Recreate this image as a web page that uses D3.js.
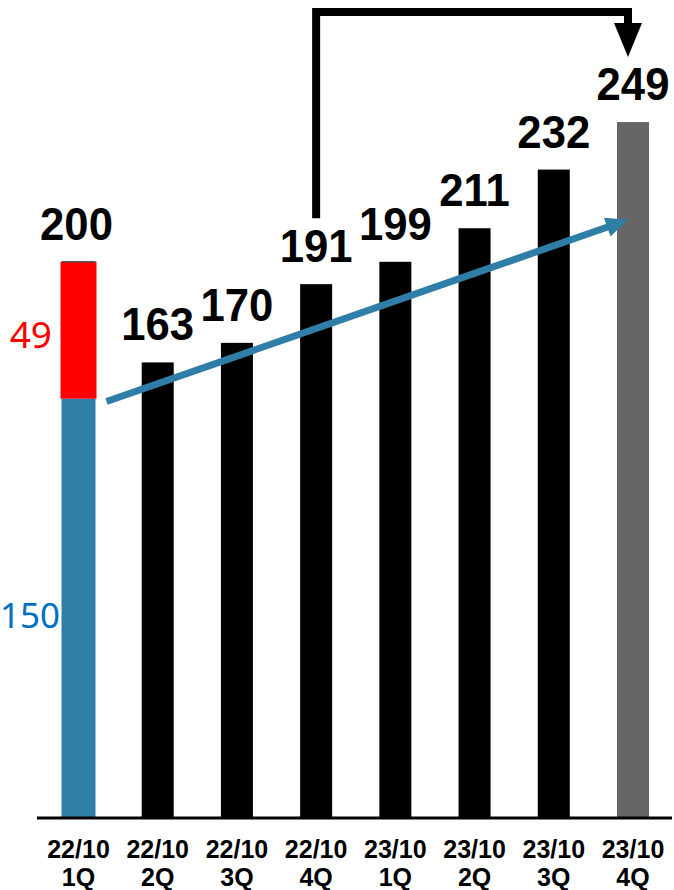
<!DOCTYPE html>
<html>
<head>
<meta charset="utf-8">
<script src="https://cdn.jsdelivr.net/npm/d3@7"></script>
<style>
  html, body { margin: 0; padding: 0; background: #fff; }
  svg { display: block; }
</style>
</head>
<body>
<svg id="chart" width="674" height="890"></svg>
<script>
// Quarterly totals, 22/10 1Q through 23/10 4Q
const periods   = ["22/10", "22/10", "22/10", "22/10", "23/10", "23/10", "23/10", "23/10"];
const quarters  = ["1Q", "2Q", "3Q", "4Q", "1Q", "2Q", "3Q", "4Q"];
const totals    = [200, 163, 170, 191, 199, 211, 232, 249];
// First quarter is split into two parts
const firstBase = 150;
const firstTop  = 49;
// Trend arrow: start and end levels
const trendFrom = 149;
const trendTo   = 214;

const baseline = 818;
const svg = d3.select("#chart");

const keys = totals.map((d, i) => i);
const x = d3.scalePoint().domain(keys).range([78.5, 633]);
const y = d3.scaleLinear().domain([0, 250]).range([baseline, baseline - 2.795 * 250]);

const barW = 32, firstW = 36;
const colBlue = "#2e7ea8", colRed = "#ff0000", colGray = "#666666";

// Bars (quarters 2 .. 8)
svg.append("g").selectAll("rect")
  .data(keys.slice(1))
  .join("rect")
  .attr("x", i => x(i) - barW / 2)
  .attr("width", barW)
  .attr("y", i => y(totals[i]))
  .attr("height", i => y(0) - y(totals[i]))
  .attr("fill", i => i === keys.length - 1 ? colGray : "#000");

// Stacked first bar
const g0 = svg.append("g");
g0.append("rect")
  .attr("x", x(0) - firstW / 2 + 1).attr("width", firstW - 2)
  .attr("y", y(firstBase)).attr("height", y(0) - y(firstBase))
  .attr("fill", colBlue);
g0.append("rect")
  .attr("x", x(0) - firstW / 2).attr("width", firstW)
  .attr("y", y(firstBase + firstTop)).attr("height", y(firstBase) - y(firstBase + firstTop))
  .attr("fill", colRed);
g0.append("line")
  .attr("x1", x(0) - firstW / 2 + 1).attr("x2", x(0) + firstW / 2 - 1)
  .attr("y1", y(firstBase + firstTop)).attr("y2", y(firstBase + firstTop))
  .attr("stroke", "#555").attr("stroke-width", 1.5);

// Segment labels at the left
svg.append("text")
  .attr("x", 52).attr("y", y(firstBase + firstTop / 2) + 18)
  .attr("text-anchor", "end")
  .attr("font-family", "'Noto Sans', sans-serif").attr("font-size", 37)
  .attr("fill", colRed)
  .text(firstTop);
svg.append("text")
  .attr("x", 0).attr("y", 628)
  .attr("text-anchor", "start")
  .attr("font-family", "'Noto Sans', sans-serif").attr("font-size", 35)
  .attr("fill", "#0070c0")
  .text(firstBase);

// Axis line
svg.append("line")
  .attr("x1", 37).attr("x2", 672)
  .attr("y1", baseline).attr("y2", baseline)
  .attr("stroke", "#000").attr("stroke-width", 3);

// Category labels (two lines)
const cat = svg.append("g")
  .attr("font-family", "'Liberation Sans', Arial, sans-serif")
  .attr("font-weight", "bold").attr("font-size", 25)
  .attr("text-anchor", "middle").attr("fill", "#000");
cat.selectAll("text.p").data(keys).join("text").attr("class", "p")
  .attr("x", i => x(i)).attr("y", 858).text(i => periods[i]);
cat.selectAll("text.q").data(keys).join("text").attr("class", "q")
  .attr("x", i => x(i)).attr("y", 886).text(i => quarters[i]);

// Value labels
svg.append("g").selectAll("text")
  .data(keys)
  .join("text")
  .attr("transform", i => `translate(${x(i) - (i === 0 ? 2 : 0)},${y(i === 0 ? firstBase + firstTop : totals[i]) - 22}) scale(0.95,1)`)
  .attr("text-anchor", "middle")
  .attr("font-family", "'Liberation Sans', Arial, sans-serif")
  .attr("font-weight", "bold").attr("font-size", 46)
  .attr("fill", "#000")
  .text(i => totals[i]);

// Bracket arrow from 22/10 4Q to 23/10 4Q
const bx1 = x(3), bx2 = x(7) - 5;
const bTop = 12;
const bStart = y(totals[3]) - 66;
svg.append("path")
  .attr("d", `M${bx1},${bStart} V${bTop} H${bx2} V${bTop + 14}`)
  .attr("fill", "none").attr("stroke", "#000").attr("stroke-width", 8)
  .attr("stroke-linejoin", "miter");
svg.append("path")
  .attr("d", `M${bx2 - 14},${bTop + 11} L${bx2 + 14},${bTop + 11} L${bx2},${bTop + 45} Z`)
  .attr("fill", "#000");

// Trend arrow
const tx1 = x(0) + 28, tx2 = x(7) - 5;
const ty1 = y(trendFrom), ty2 = y(trendTo);
const ang = Math.atan2(ty2 - ty1, tx2 - tx1);
const headLen = 22, headHalf = 10;
const bxh = tx2 - headLen * Math.cos(ang), byh = ty2 - headLen * Math.sin(ang);
svg.append("line")
  .attr("x1", tx1).attr("y1", ty1).attr("x2", bxh + 2 * Math.cos(ang)).attr("y2", byh + 2 * Math.sin(ang))
  .attr("stroke", colBlue).attr("stroke-width", 7);
svg.append("path")
  .attr("d", `M${tx2},${ty2} L${bxh - headHalf * Math.sin(ang)},${byh + headHalf * Math.cos(ang)} L${bxh + headHalf * Math.sin(ang)},${byh - headHalf * Math.cos(ang)} Z`)
  .attr("fill", colBlue);
</script>
</body>
</html>
